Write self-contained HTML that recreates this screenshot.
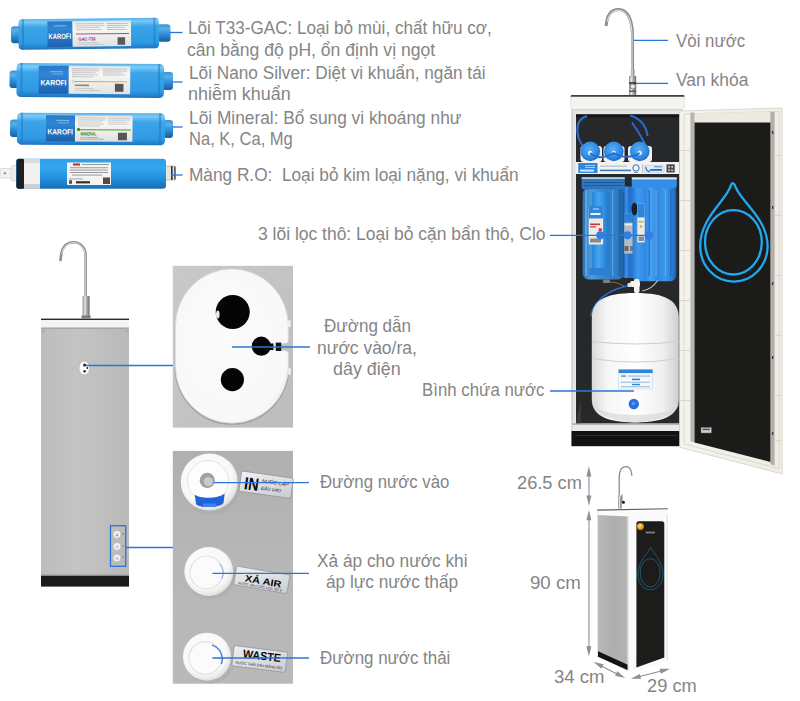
<!DOCTYPE html>
<html><head><meta charset="utf-8">
<style>
html,body{margin:0;padding:0;background:#fff;}
body{width:800px;height:701px;position:relative;overflow:hidden;font-family:"Liberation Sans",sans-serif;}
.t{position:absolute;white-space:nowrap;color:#858585;font-size:17.5px;line-height:20px;transform-origin:0 0;}
svg{position:absolute;left:0;top:0;}
</style></head><body>
<svg width="800" height="701" viewBox="0 0 800 701">
<defs>
<linearGradient id="cart" x1="0" y1="0" x2="0" y2="1">
 <stop offset="0" stop-color="#56b0ec"/><stop offset="0.1" stop-color="#7ccaf6"/><stop offset="0.27" stop-color="#3ba5ea"/><stop offset="0.8" stop-color="#2f99e3"/><stop offset="0.93" stop-color="#2382d2"/><stop offset="1" stop-color="#1c70c0"/>
</linearGradient>
<linearGradient id="cart2" x1="0" y1="0" x2="0" y2="1">
 <stop offset="0" stop-color="#3a92d2"/><stop offset="0.25" stop-color="#58b2ea"/><stop offset="0.6" stop-color="#2b8ad2"/><stop offset="1" stop-color="#185f9f"/>
</linearGradient>
<linearGradient id="ro" x1="0" y1="0" x2="0" y2="1">
 <stop offset="0" stop-color="#2f9ee6"/><stop offset="0.3" stop-color="#33a6ee"/><stop offset="0.7" stop-color="#1f8cd8"/><stop offset="1" stop-color="#1670b8"/>
</linearGradient>
<linearGradient id="lbl" x1="0" y1="0" x2="0" y2="1">
 <stop offset="0" stop-color="#e4e6e6"/><stop offset="0.3" stop-color="#f6f6f4"/><stop offset="1" stop-color="#e2e2de"/>
</linearGradient>
<linearGradient id="lblb" x1="0" y1="0" x2="0" y2="1">
 <stop offset="0" stop-color="#2a78c8"/><stop offset="0.3" stop-color="#2f86d6"/><stop offset="1" stop-color="#1c62ae"/>
</linearGradient>
<linearGradient id="steel" x1="0" y1="0" x2="1" y2="0">
 <stop offset="0" stop-color="#8c8c8c"/><stop offset="0.35" stop-color="#e8e8e8"/><stop offset="0.6" stop-color="#a8a8a8"/><stop offset="1" stop-color="#6e6e6e"/>
</linearGradient>
<linearGradient id="bodyg" x1="0" y1="0" x2="1" y2="0">
 <stop offset="0" stop-color="#bcbcbc"/><stop offset=".4" stop-color="#c4c4c4"/><stop offset="1" stop-color="#b9b9b9"/>
</linearGradient>
</defs>
<g id="filters">
<!-- cartridge 1 -->
<g transform="rotate(-0.6 90 34)">
 <rect x="11" y="25.5" width="10" height="17" rx="3" fill="url(#cart2)"/>
 <rect x="157" y="25" width="13.5" height="17.5" rx="3" fill="url(#cart2)"/>
 <rect x="18.5" y="18.5" width="140.5" height="30.5" rx="4" fill="url(#cart)"/>
 <rect x="22" y="18.5" width="2" height="30.5" fill="#1f79c2" opacity=".55"/>
 <rect x="153.5" y="18.5" width="2" height="30.5" fill="#1f79c2" opacity=".55"/>
 <rect x="47.5" y="21" width="25" height="25.5" fill="url(#lblb)"/>
 <rect x="72.5" y="21" width="58.5" height="25.5" fill="url(#lbl)"/>
 <text x="48.5" y="38.6" font-family="Liberation Sans, sans-serif" font-weight="bold" font-size="7.6" fill="#fff" textLength="22.5" lengthAdjust="spacingAndGlyphs">KAROFI</text>
 <rect x="54" y="25" width="12" height="1" fill="#9cc8ee" opacity=".8"/>
 <g fill="#b9bcbc"><rect x="76" y="23.3" width="28" height=".8"/><rect x="76" y="25.3" width="28" height=".8"/><rect x="76" y="27.3" width="24" height=".8"/><rect x="76" y="29.3" width="26" height=".8"/><rect x="107" y="23.3" width="21" height=".8"/><rect x="107" y="25.3" width="21" height=".8"/><rect x="107" y="27.3" width="18" height=".8"/><rect x="107" y="29.3" width="20" height=".8"/></g>
 <rect x="76" y="33.4" width="53" height="1" fill="#b04aa0"/>
 <text x="78.5" y="40.6" font-family="Liberation Sans, sans-serif" font-weight="bold" font-size="4.6" fill="#8a2a8e" textLength="17" lengthAdjust="spacingAndGlyphs">GAC-T33</text>
 <rect x="78" y="42.3" width="20" height=".7" fill="#bbb"/><rect x="78" y="44" width="26" height=".7" fill="#bbb"/>
 <rect x="117.5" y="37.5" width="7.5" height="7.5" fill="#5a5a5a"/>
</g>
<!-- cartridge 2 -->
<g transform="rotate(0.4 90 81)">
 <rect x="9.5" y="71" width="10" height="17.5" rx="3" fill="url(#cart2)"/>
 <rect x="162" y="71.5" width="11" height="18" rx="3" fill="url(#cart2)"/>
 <rect x="16.5" y="63.5" width="147.5" height="34" rx="4.5" fill="url(#cart)"/>
 <rect x="20.5" y="63.5" width="2" height="34" fill="#1f79c2" opacity=".55"/>
 <rect x="158" y="63.5" width="2" height="34" fill="#1f79c2" opacity=".55"/>
 <rect x="38.7" y="66" width="30" height="28" fill="url(#lblb)"/>
 <rect x="68.7" y="66" width="61.5" height="28" fill="url(#lbl)"/>
 <text x="40.5" y="85.6" font-family="Liberation Sans, sans-serif" font-weight="bold" font-size="7.8" fill="#fff" textLength="26" lengthAdjust="spacingAndGlyphs">KAROFI</text>
 <rect x="50" y="71.5" width="13" height="1" fill="#9cc8ee" opacity=".8"/><rect x="52" y="73.8" width="11" height="1" fill="#9cc8ee" opacity=".6"/>
 <g fill="#bdbfbf"><rect x="72" y="68.5" width="27" height=".8"/><rect x="72" y="70.5" width="27" height=".8"/><rect x="72" y="72.5" width="24" height=".8"/><rect x="72" y="74.5" width="26" height=".8"/><rect x="72" y="76.5" width="22" height=".8"/><rect x="103" y="68.5" width="24" height=".8"/><rect x="103" y="70.5" width="24" height=".8"/><rect x="103" y="72.5" width="20" height=".8"/><rect x="103" y="74.5" width="22" height=".8"/></g>
 <rect x="72" y="81.2" width="55" height=".9" fill="#c9a34a"/>
 <circle cx="73.5" cy="81.5" r="1.4" fill="#fff" stroke="#999" stroke-width=".5"/>
 <rect x="75" y="84.6" width="14" height="1.6" fill="#8a8a7a"/>
 <rect x="75" y="88" width="18" height=".7" fill="#bbb"/><rect x="75" y="90" width="24" height=".7" fill="#bbb"/>
 <rect x="115" y="83.7" width="8.5" height="7.8" fill="#555"/>
</g>
<!-- cartridge 3 -->
<g transform="rotate(0.3 90 129)">
 <rect x="10" y="120" width="10" height="17.5" rx="3" fill="url(#cart2)"/>
 <rect x="163" y="119.5" width="10" height="18" rx="3" fill="url(#cart2)"/>
 <rect x="17" y="113" width="148" height="32" rx="4.5" fill="url(#cart)"/>
 <rect x="21" y="113" width="2" height="32" fill="#1f79c2" opacity=".55"/>
 <rect x="159" y="113" width="2" height="32" fill="#1f79c2" opacity=".55"/>
 <rect x="46" y="115.5" width="29" height="26" fill="url(#lblb)"/>
 <rect x="75" y="115.5" width="57.5" height="26" fill="url(#lbl)"/>
 <text x="47.5" y="134.6" font-family="Liberation Sans, sans-serif" font-weight="bold" font-size="7.6" fill="#fff" textLength="25.5" lengthAdjust="spacingAndGlyphs">KAROFI</text>
 <rect x="56" y="120" width="13" height="1" fill="#9cc8ee" opacity=".8"/><rect x="58" y="122.3" width="11" height="1" fill="#9cc8ee" opacity=".6"/>
 <g fill="#bdbfbf"><rect x="78" y="117.6" width="27" height=".8"/><rect x="78" y="119.6" width="27" height=".8"/><rect x="78" y="121.6" width="24" height=".8"/><rect x="78" y="123.6" width="26" height=".8"/><rect x="78" y="125.6" width="22" height=".8"/><rect x="108" y="117.6" width="22" height=".8"/><rect x="108" y="119.6" width="22" height=".8"/><rect x="108" y="121.6" width="19" height=".8"/><rect x="108" y="123.6" width="21" height=".8"/></g>
 <rect x="78" y="129.2" width="53" height="1" fill="#4a9a3a"/>
 <circle cx="78.5" cy="129.5" r="1.6" fill="#3a8a2a"/>
 <text x="80.5" y="135.6" font-family="Liberation Sans, sans-serif" font-weight="bold" font-size="4.6" fill="#2f7a2a" textLength="16" lengthAdjust="spacingAndGlyphs">MINERAL</text>
 <rect x="80" y="137.2" width="18" height=".7" fill="#999"/><rect x="80" y="138.8" width="24" height=".7" fill="#999"/>
 <rect x="118" y="132.5" width="9" height="7.5" fill="#555"/>
</g>
<!-- RO membrane -->
<g>
 <rect x="0" y="168.5" width="14" height="9.5" rx="1.5" fill="#f3f3f3" stroke="#c8c8c8" stroke-width=".6"/>
 <circle cx="5" cy="173.2" r="1.3" fill="#9a9a9a"/>
 <rect x="11" y="165.5" width="8" height="15.5" rx="2" fill="#ececec" stroke="#c4c4c4" stroke-width=".5"/>
 <rect x="165" y="166" width="10.5" height="14" rx="1.5" fill="#e4e4e4" stroke="#9a9a9a" stroke-width=".6"/>
 <rect x="171" y="166" width="1.6" height="14" fill="#333"/><rect x="174.2" y="166.5" width="1.3" height="13" fill="#444"/>
 <rect x="16" y="158.7" width="150" height="30" rx="3" fill="url(#ro)"/>
 <rect x="16.5" y="158.7" width="8" height="30" rx="2.5" fill="#1d1f22"/>
 <rect x="24" y="159" width="16" height="29.5" fill="#f1f1f1"/>
 <rect x="24" y="159" width="16" height="4" fill="#dcdcdc"/><rect x="24" y="184" width="16" height="4.5" fill="#cfcfcf"/>
 <rect x="67" y="162.5" width="44" height="22.5" fill="#f4f4f2"/>
 <rect x="73" y="163.4" width="7" height="2.2" fill="#d0302a"/>
 <g fill="#8f8f8f"><rect x="82" y="164" width="27" height=".9"/><rect x="70" y="167.3" width="38" height=".9"/><rect x="70" y="169.6" width="38" height=".9"/><rect x="70" y="172" width="38" height=".9"/><rect x="72" y="174.6" width="30" height=".9"/><rect x="69" y="178.5" width="14" height=".8"/></g>
 <rect x="69" y="180.2" width="3" height="3.6" fill="#555"/>
 <rect x="76" y="181.2" width="14" height="2.2" fill="#333"/>
 <rect x="103" y="177.5" width="7" height="6.5" fill="#5a4a3a"/>
</g>
</g>
<!-- leader lines top-left -->
<g stroke="#2a74da" stroke-width="1.3" fill="none">
 <path d="M170 32.5H182.5"/><path d="M172.5 82H182.5"/><path d="M172.5 127H182.5"/><path d="M171 175H182.5"/>
</g>

<!-- back view unit -->
<g id="backunit">
 <path d="M85.6 297V254.5A12.3 12.3 0 0 0 73.3 242.2C66 242.2 62.2 247.5 61.3 254L60.4 261" fill="none" stroke="#8f8f8f" stroke-width="2.6" stroke-linecap="butt"/>
 <path d="M85.2 297V254.5A11.9 11.9 0 0 0 73.3 242.6C66.4 242.6 62.8 247.8 61.8 254" fill="none" stroke="#e2e2e2" stroke-width="0.9"/>
 <rect x="82.6" y="296" width="7" height="22" fill="url(#steel)"/>
 <rect x="81.6" y="315.5" width="9" height="2.8" fill="#7d7d7d"/>
 <rect x="41" y="318.6" width="88" height="1.5" fill="#2a2a2a"/>
 <rect x="41" y="320.1" width="88" height="8" fill="#f5f5f5"/>
 <rect x="41" y="327.6" width="88" height="1.2" fill="#8a8a8a"/>
 <rect x="41" y="328.8" width="88" height="247" fill="url(#bodyg)"/>
 <rect x="41" y="575.6" width="88" height="11" fill="#1b1b1b"/>
 <rect x="41" y="574.6" width="88" height="1.2" fill="#8e8e8e"/>
 <circle cx="43.5" cy="331.3" r=".8" fill="#8a8a8a"/><circle cx="126.5" cy="331.3" r=".8" fill="#8a8a8a"/>
 <ellipse cx="84.3" cy="368" rx="5.3" ry="7" fill="#fafafa" stroke="#a0a0a0" stroke-width=".5"/>
 <circle cx="84.6" cy="365" r="1.5" fill="#222"/><circle cx="84.6" cy="371.3" r="1.2" fill="#222"/><circle cx="87.3" cy="368" r=".9" fill="#222"/>
 <g fill="#f4f4f4" stroke="#9c9c9c" stroke-width=".5"><circle cx="117" cy="534.4" r="4"/><circle cx="117" cy="546.4" r="4"/><circle cx="117" cy="558" r="4"/></g>
 <g fill="#d0d0d0"><circle cx="117" cy="534.8" r="1.8"/><circle cx="117" cy="546.8" r="1.8"/><circle cx="117" cy="558.4" r="1.8"/></g>
 <circle cx="117.2" cy="535.6" r=".7" fill="#555"/>
 <g fill="#8a8a8a"><rect x="122.3" y="533" width="1.6" height="1.6"/><rect x="122.3" y="545.4" width="1.6" height="1.2"/><rect x="122.3" y="556.4" width="1.6" height="1.6"/></g>
 <rect x="110.5" y="525.7" width="15.2" height="40.6" fill="none" stroke="#2a74da" stroke-width="1.3"/>
</g>
<g stroke="#2a74da" stroke-width="1.3" fill="none">
 <path d="M86 365.5H173"/><path d="M125.7 547.5H173"/>
</g>
<!-- plug panel -->
<g id="plugpanel">
 <defs>
  <linearGradient id="pnl" x1="0" y1="0" x2="1" y2="1"><stop offset="0" stop-color="#c9c9c9"/><stop offset="1" stop-color="#bdbdbd"/></linearGradient>
  <radialGradient id="plugw" cx=".45" cy=".45" r=".62"><stop offset="0" stop-color="#fbfbfb"/><stop offset=".9" stop-color="#f8f8f8"/><stop offset="1" stop-color="#eeeeee"/></radialGradient>
 </defs>
 <rect x="172.8" y="265.8" width="120.2" height="161.8" fill="url(#pnl)"/>
 <path d="M288.4 366.5A56.4 56.6 0 0 1 175.5 366.5" fill="none" stroke="#808080" stroke-width="1.8" opacity=".5" transform="translate(0 .8)"/>
 
 <path d="M175.5 326A56.4 57 0 0 1 288.3 326V340.5C288.3 342.5 287 343.5 284 343.5H272V350.5H284C287.5 350.5 288.4 352 288.4 355V366.5A56.4 56.6 0 0 1 175.5 366.5Z" fill="url(#plugw)" stroke="#d8d8d8" stroke-width=".8"/>
 <rect x="288.2" y="320" width="2.5" height="7" rx="1" fill="#f2f2f2"/><rect x="288.2" y="368" width="2.5" height="7" rx="1" fill="#f2f2f2"/>
 <circle cx="232.7" cy="312" r="17" fill="#050505"/>
 <ellipse cx="217.8" cy="314.5" rx="1.8" ry="4" fill="#e8e8e8"/>
 <circle cx="261.3" cy="346.2" r="9.6" fill="#050505"/>
 <rect x="268" y="343.5" width="6" height="6.5" fill="#050505"/>
 <rect x="275.6" y="342.6" width="5.6" height="8.4" fill="#111"/>
 <rect x="273.4" y="342.6" width="2.2" height="8.4" fill="#eaeaea"/>
 <circle cx="232.4" cy="379.6" r="11.6" fill="#050505"/>
</g>
<path d="M232 347H310" stroke="#2a74da" stroke-width="1.3" fill="none"/>

<!-- ports panel -->
<g id="ports">
 <defs>
  <radialGradient id="portw" cx=".45" cy=".42" r=".6"><stop offset="0" stop-color="#ffffff"/><stop offset=".75" stop-color="#f8f8f8"/><stop offset="1" stop-color="#dedede"/></radialGradient>
  <linearGradient id="silver" x1="0" y1="0" x2="1" y2="1"><stop offset="0" stop-color="#f0f1f3"/><stop offset=".5" stop-color="#dcdee2"/><stop offset="1" stop-color="#c9ccd1"/></linearGradient>
 </defs>
 <linearGradient id="pnl2" x1="0" y1="0" x2="0" y2="1"><stop offset="0" stop-color="#b0b0b0"/><stop offset=".5" stop-color="#b7b7b7"/><stop offset="1" stop-color="#b9b9b9"/></linearGradient><rect x="172.8" y="450.9" width="120.2" height="232.8" fill="url(#pnl2)"/>
 <!-- port 1 -->
 <ellipse cx="211" cy="488" rx="29" ry="27" fill="#a9a9a9" opacity=".5"/>
 <circle cx="209.3" cy="482" r="28.5" fill="url(#portw)"/>
 <circle cx="208" cy="481" r="20.5" fill="#fdfdfd" stroke="#e4e4e4" stroke-width="1"/>
 <path d="M194.7 494.5C200 499 218 499 224.7 493.5L223.5 503C220 508 199 508.5 196 504Z" fill="#1f62da"/>
 <path d="M203 503.5H216V507H203Z" fill="#3f83ee"/>
 <circle cx="207.3" cy="480.3" r="7.6" fill="#9aa2a2"/>
 <circle cx="208.3" cy="481.6" r="4.6" fill="#c4cccc"/>
 <g transform="rotate(8 266.1 484.7)">
  <rect x="240" y="474.5" width="52.3" height="20.4" rx="1.5" fill="url(#silver)" stroke="#8e9096" stroke-width=".7"/>
  <text x="244.3" y="492" font-family="Liberation Sans, sans-serif" font-weight="bold" font-size="17.6" fill="#0a0a0a" textLength="14.6" lengthAdjust="spacingAndGlyphs">IN</text>
  <text x="261.5" y="483.2" font-family="Liberation Sans, sans-serif" font-style="italic" font-size="4.8" fill="#222" textLength="27" lengthAdjust="spacingAndGlyphs">NƯỚC CẤP</text>
  <text x="261.5" y="490.4" font-family="Liberation Sans, sans-serif" font-style="italic" font-size="4.8" fill="#222" textLength="20.5" lengthAdjust="spacingAndGlyphs">ĐẦU VÀO</text>
 </g>
 <!-- port 2 -->
 <ellipse cx="210.5" cy="575.5" rx="25" ry="23.5" fill="#a9a9a9" opacity=".5"/>
 <circle cx="208.8" cy="571.5" r="24.4" fill="url(#portw)"/>
 <circle cx="206.5" cy="572.5" r="16.5" fill="#fbfbfb" stroke="#e2e2e2" stroke-width="1.2"/>
 <path d="M219.5 563.5A14.5 14.5 0 0 1 221.8 579" fill="none" stroke="#7fabe8" stroke-width="1"/>
 <g transform="rotate(9.6 261.8 579.9)">
  <rect x="234.8" y="570.45" width="54" height="18.9" rx="1.5" fill="url(#silver)" stroke="#8e9096" stroke-width=".7"/>
  <text x="245" y="584.2" font-family="Liberation Sans, sans-serif" font-weight="bold" font-size="9.4" fill="#0a0a0a" textLength="36.8" lengthAdjust="spacingAndGlyphs">XẢ AIR</text>
  <text x="239" y="588.1" font-family="Liberation Sans, sans-serif" font-size="3.4" fill="#222" textLength="44" lengthAdjust="spacingAndGlyphs">NƯỚC SAU CỐC LỌC SỐ 3</text>
 </g>
 <!-- port 3 -->
 <ellipse cx="210" cy="660.3" rx="25" ry="23.5" fill="#a9a9a9" opacity=".5"/>
 <circle cx="207" cy="656.7" r="24" fill="url(#portw)"/>
 <circle cx="205.3" cy="658" r="16.3" fill="#fbfbfb" stroke="#e2e2e2" stroke-width="1.2"/>
 <path d="M212 645.2A14.5 14.5 0 0 1 221.4 664" fill="none" stroke="#3a7be0" stroke-width="1.3"/>
 <g transform="rotate(7.2 259.7 659)">
  <rect x="232.85" y="648.8" width="53.7" height="20.4" rx="1.5" fill="url(#silver)" stroke="#8e9096" stroke-width=".7"/>
  <text x="242.5" y="659.6" font-family="Liberation Sans, sans-serif" font-weight="bold" font-size="11.5" fill="#0a0a0a" textLength="38.2" lengthAdjust="spacingAndGlyphs">WASTE</text>
  <text x="236" y="666.6" font-family="Liberation Sans, sans-serif" font-size="3.8" fill="#222" textLength="47" lengthAdjust="spacingAndGlyphs">NƯỚC THẢI SAU MÀNG RO</text>
 </g>
</g>
<g stroke="#2a74da" stroke-width="1.3" fill="none">
 <path d="M213.4 482.7H309"/><path d="M212.4 573.4H309"/><path d="M212.4 658H309"/>
</g>

<!-- big cabinet -->
<g id="cabinet">
 <defs>
  <linearGradient id="tank" x1="0" y1="0" x2="1" y2="0"><stop offset="0" stop-color="#d9d9d9"/><stop offset=".18" stop-color="#f6f6f6"/><stop offset=".5" stop-color="#ffffff"/><stop offset=".82" stop-color="#efefef"/><stop offset="1" stop-color="#cfcfcf"/></linearGradient>
  <linearGradient id="f1" x1="0" y1="0" x2="1" y2="0"><stop offset="0" stop-color="#2a6fb4"/><stop offset=".2" stop-color="#4b9ddc"/><stop offset=".5" stop-color="#3586cc"/><stop offset=".85" stop-color="#2f7cc4"/><stop offset="1" stop-color="#1d5a9c"/></linearGradient>
  <linearGradient id="f1in" x1="0" y1="0" x2="1" y2="0"><stop offset="0" stop-color="#2583d6"/><stop offset=".4" stop-color="#45a6f0"/><stop offset="1" stop-color="#1f78cc"/></linearGradient>
  <linearGradient id="f3" x1="0" y1="0" x2="1" y2="0"><stop offset="0" stop-color="#2a7ad6"/><stop offset=".12" stop-color="#3f9af0"/><stop offset=".3" stop-color="#2f88e4"/><stop offset=".42" stop-color="#4aa2f0"/><stop offset=".55" stop-color="#2f88e0"/><stop offset=".75" stop-color="#3f98ea"/><stop offset=".9" stop-color="#2b7fd6"/><stop offset="1" stop-color="#1b5fb0"/></linearGradient>
  <radialGradient id="dome" cx=".45" cy=".4" r=".6"><stop offset="0" stop-color="#58b0f4"/><stop offset=".7" stop-color="#2f8be2"/><stop offset="1" stop-color="#1f6cc4"/></radialGradient>
  <linearGradient id="doorf" x1="0" y1="0" x2="1" y2="0"><stop offset="0" stop-color="#f5f3ee"/><stop offset="1" stop-color="#eeece4"/></linearGradient>
 </defs>
 <!-- faucet -->
 <path d="M632.5 76V36C632.5 20 627.6 9.6 618.6 9.6C611 9.6 607.5 15.5 606.7 21.5L606.1 26" fill="none" stroke="#8e8e8e" stroke-width="3"/>
 <path d="M632 76V36C632 20.5 627.2 10.2 618.6 10.2C611.5 10.2 608.2 15.8 607.4 21.5" fill="none" stroke="#e9e9e9" stroke-width="1"/>
 <rect x="629" y="76" width="7.2" height="20" fill="url(#steel)"/><rect x="630.8" y="69" width="3.6" height="8" fill="url(#steel)"/>
 <rect x="629" y="82.2" width="7.2" height="1.6" fill="#333"/><circle cx="632.8" cy="86.5" r="2.6" fill="#e6e6e6" stroke="#555" stroke-width=".7"/><rect x="629" y="90.6" width="7.2" height="1.2" fill="#444"/>
 
 <!-- body -->
 <rect x="571.5" y="100" width="111" height="346" fill="#e6e6e3"/>
 <rect x="570.7" y="95.6" width="113.7" height="14" rx="2.5" fill="#f4f3ef" stroke="#d8d6d0" stroke-width=".6"/>
 <path d="M571.5 95H683.6C684.2 95 684.5 95.8 684.5 96.7H570.6C570.6 95.8 571 95 571.5 95Z" fill="#36443e"/>
 <rect x="571.5" y="109.3" width="111" height="1" fill="#cfcdc6"/>
 <rect x="576" y="114.4" width="103.5" height="309" fill="#27282a"/>
 <rect x="571.5" y="110" width="1.2" height="336" fill="#c9c7c0"/>
 <rect x="576" y="114.4" width="103.5" height="3" fill="#161616"/>
 <!-- tubes top -->
 <g fill="none" stroke="#2a6cd4" stroke-width="2">
  <path d="M587 116C580 118 576.8 124 577.5 132C578 140 582 147 590 152.5"/>
  <path d="M630 115.5C640 118 646.5 126 647.5 136"/>
  <path d="M632 122.5C636 128 641 136 645 144"/>
 </g>
 <!-- membrane caps -->
 <g fill="#f2f2f2">
  <rect x="580.5" y="146" width="21.5" height="16" rx="3"/><rect x="603.5" y="146" width="21" height="16" rx="3"/><rect x="628" y="146" width="24" height="16" rx="3"/>
 </g>
 <g fill="url(#dome)"><circle cx="590.3" cy="151.4" r="9.8"/><circle cx="613.8" cy="151.4" r="9.8"/><circle cx="639.7" cy="151.4" r="9.8"/></g>
 <g fill="#e8f2fc"><circle cx="590.2" cy="153" r="2.2"/><circle cx="613.8" cy="153" r="2.2"/><circle cx="639.7" cy="153" r="2.2"/></g>
 <path d="M590.2 153C596 159 606 158 613.8 153C622 158 632 158 639.7 153" fill="none" stroke="#2a6cd4" stroke-width="2"/>
 <!-- shelf label -->
 <rect x="576" y="162" width="103" height="12" fill="#f1f2f3"/>
 <rect x="578.3" y="163" width="19.2" height="10" fill="#2f86d8"/>
 <rect x="580" y="169.5" width="14" height="2.2" fill="#e8f2fc" opacity=".85"/><rect x="585" y="165.2" width="10" height=".8" fill="#bfe0fa"/><rect x="585" y="167" width="10" height=".8" fill="#bfe0fa"/>
 <rect x="600" y="165.6" width="27" height="1" fill="#aab4c0"/><rect x="600" y="169.6" width="31" height="1.6" fill="#3f78b8"/>
 <circle cx="636" cy="168" r="3.2" fill="none" stroke="#3a6fae" stroke-width="1"/><rect x="634" y="172" width="4" height="1" fill="#8a98aa"/>
 <rect x="642.3" y="164" width=".7" height="9.4" fill="#b0b4b8"/>
 <rect x="644" y="165.4" width="20" height="7" rx="1.2" fill="#e2ecf6" stroke="#a8c0dc" stroke-width=".5"/>
 <rect x="650" y="169" width="12" height="1.8" fill="#2a6eb8"/><rect x="654" y="166.3" width="8" height="1" fill="#4a86c8"/>
 <path d="M645.8 166.8c0 3 1.5 4.5 4 5" fill="none" stroke="#2a6eb8" stroke-width="1.2"/>
 <rect x="666.5" y="164.3" width="8.2" height="8.2" fill="#4a4a4a"/>
 <rect x="668.3" y="166.1" width="1.6" height="1.6" fill="#ddd"/><rect x="671.4" y="166.1" width="1.6" height="1.6" fill="#ddd"/><rect x="668.3" y="169.2" width="1.6" height="1.6" fill="#ddd"/><rect x="671" y="169.6" width="2.2" height="1.4" fill="#ccc"/>
 <!-- filter 2 (slim, behind) -->
 <rect x="622.5" y="186.5" width="14" height="91.5" rx="3" fill="#2473cc"/>
 <rect x="625" y="186.5" width="3" height="91.5" fill="#3f93e6" opacity=".7"/>
 <rect x="623.5" y="213.6" width="11.6" height="40" fill="#b4bcc4"/>
 <rect x="623.5" y="213.6" width="11.6" height="9" fill="#2f7fd4"/>
 <rect x="624.3" y="223.5" width="10" height="2" fill="#e8e8e8"/><rect x="624.5" y="246" width="4" height="5" fill="#666"/><rect x="630" y="246" width="4" height="5" fill="#777"/>
 <!-- filter 1 (transparent) -->
 <rect x="582.6" y="188" width="41.6" height="91.4" rx="6" fill="url(#f1)"/>
 <rect x="581.6" y="177.2" width="43.2" height="12" rx="2" fill="#2f76be"/>
 <rect x="581.6" y="177.2" width="43.2" height="1.8" fill="#a9d4f2"/>
 <rect x="583.5" y="182" width="39.5" height="1" fill="#1f5a9a"/><rect x="583.5" y="185" width="39.5" height="1" fill="#1f5a9a"/>
 <rect x="591.8" y="192" width="17" height="77" rx="2" fill="url(#f1in)"/>
 <rect x="589" y="268" width="23" height="7" rx="2" fill="#2c7fd2"/>
 <rect x="588.7" y="206" width="14.4" height="38.5" rx="1" fill="#ecebe6"/>
 <rect x="588.7" y="206" width="14.4" height="12.5" fill="#2f86d8"/>
 <rect x="590.5" y="213" width="10" height="2" fill="#e8f2fc"/><rect x="593" y="208.5" width="6" height="1" fill="#bfe0fa"/>
 <rect x="590" y="223.5" width="10" height="1.6" fill="#c43a3a"/><rect x="590" y="226.3" width="6" height="1.2" fill="#c43a3a"/><rect x="598.8" y="228.3" width="3" height="3" fill="#d03030"/>
 <rect x="590" y="238.5" width="11" height="4" fill="#8a8a8a"/>
 <rect x="585" y="190" width="2.2" height="86" fill="#7cc0f0" opacity=".55"/><rect x="618.5" y="190" width="2" height="86" fill="#1b548e" opacity=".5"/><rect x="612" y="190" width="1.3" height="86" fill="#8acaf4" opacity=".45"/>
 <!-- filter 3 (solid) -->
 <rect x="632.5" y="184" width="43.8" height="97.2" rx="6" fill="url(#f3)"/>
 <rect x="631.8" y="177.4" width="45" height="10.5" rx="2.5" fill="#338ee6"/>
 <rect x="631.8" y="177.4" width="45" height="2" fill="#dceefc"/>
 <rect x="648.5" y="190" width="1.4" height="86" fill="#1f6cc8" opacity=".8"/><rect x="655.5" y="190" width="1.2" height="86" fill="#7cc0f8" opacity=".6"/><rect x="670" y="190" width="1.4" height="86" fill="#1f64b8" opacity=".7"/><rect x="665" y="190" width="1" height="86" fill="#7cc0f8" opacity=".5"/>
 <ellipse cx="634.5" cy="209" rx="3" ry="6.5" fill="#17202a"/>
 <rect x="637.3" y="203.4" width="7.4" height="39" fill="#ecebe4"/>
 <rect x="637.3" y="203.4" width="7.4" height="14" fill="#2f86d8"/>
 <rect x="638.5" y="221" width="5" height="1.4" fill="#c8b040"/><circle cx="641" cy="226.5" r="1.2" fill="#c8b040"/><rect x="638.5" y="236.5" width="5.4" height="4.5" fill="#8a8a8a"/>
 <!-- fittings -->
 <path d="M629 285.5C612 289 594 298 590.8 316" fill="none" stroke="#2a6bd0" stroke-width="1.6"/>
 <path d="M642 291C650 290 654 286 658 280" fill="none" stroke="#b8c0c8" stroke-width="1.2"/>
 <rect x="603" y="279.5" width="7" height="3.5" rx="1" fill="#7a8088"/><path d="M610 282C616 282 620 284 624 286" fill="none" stroke="#8a6a3a" stroke-width="1"/>
 <rect x="630" y="281" width="10" height="6" rx="2" fill="#f2f2f2"/><rect x="634" y="279" width="5.5" height="14" rx="2" fill="#f4f4f4"/><rect x="627.5" y="283" width="4" height="4" rx="1" fill="#e4e4e4"/>
 <!-- tank -->
 <path d="M591.8 318C591.8 301 604 293 635.3 293C666.5 293 678.8 301 678.8 318V399C678.8 414 667 422.4 635.3 422.4C603.5 422.4 591.8 414 591.8 399Z" fill="url(#tank)"/>
 <path d="M591.8 341.5Q635.5 346.5 678.8 341.5" fill="none" stroke="#cdcdcd" stroke-width="1"/>
 <path d="M591.8 358.5Q635.5 365.5 678.8 358.5" fill="none" stroke="#d0d0d0" stroke-width="1.2"/>
 <path d="M592 404C596 418 625 422.5 635.5 422.5C646 422.5 675 418 679 404C672 412 655 415 635.5 415C616 415 599 412 592 404Z" fill="#d8d8d8" opacity=".7"/>
 <rect x="618.6" y="369.5" width="34" height="19.5" fill="#f4f8fc" stroke="#bcd0e6" stroke-width=".5"/>
 <rect x="618.6" y="369.5" width="34" height="3.6" fill="#2f86d8"/>
 <g fill="#7ea6d2"><rect x="621" y="375.2" width="5" height="1.8"/><rect x="628" y="375.6" width="22" height=".9"/><rect x="632" y="378.6" width="8" height="1.6" fill="#2f86d8"/><rect x="621" y="381.8" width="29" height=".8"/><rect x="632" y="383.8" width="8" height="1.4" fill="#2f86d8"/><rect x="621" y="386.4" width="29" height=".8"/></g>
 <circle cx="633.8" cy="404" r="5.2" fill="#2a6fe0"/><circle cx="633.4" cy="403.5" r="1.8" fill="#5a98f4"/>
 <!-- bottom -->
 <path d="M576 423.5L581 400V423.5Z" fill="#3a3a3a"/>
 <rect x="576" y="390" width="10" height="1.2" fill="#555" opacity=".6"/>
 <rect x="572.5" y="423.4" width="108" height="1.4" fill="#9a9a9a"/>
 <rect x="572.5" y="424.8" width="108" height="6.4" fill="#e9e9e7"/>
 <rect x="571.5" y="431" width="110" height="15.2" fill="#121212"/>
 <rect x="575" y="435" width="102" height="1" fill="#2e2e2e"/>
 <!-- door -->
 <path d="M679.6 111L782.2 108V474L679.6 447.2Z" fill="url(#doorf)" stroke="#cfccc2" stroke-width=".7"/>
 <path d="M684 114L779 111.5V468.5L684 444Z" fill="none" stroke="#d6d3c8" stroke-width=".8"/>
 <path d="M690.6 113.5L774.2 111.6V122.6H690.6Z" fill="#ebe9e1"/>
 <path d="M690.4 112.5H694.5V442.3L690.4 441.3Z" fill="#b7b5af"/>
 <path d="M770.4 111.8H774.6V465.4L770.4 464.3Z" fill="#b0afab"/>
 <path d="M694.5 122.6H770.4V462L694.5 442.6Z" fill="#1b1b1a"/>
 <g fill="#d9d6cb"><rect x="680" y="150" width="10" height="1"/><rect x="680" y="200" width="10" height="1"/><rect x="680" y="250" width="10" height="1"/><rect x="680" y="300" width="10" height="1"/><rect x="680" y="350" width="10" height="1"/><rect x="680" y="400" width="10" height="1"/><rect x="775" y="155" width="7" height="1"/><rect x="775" y="215" width="7" height="1"/><rect x="775" y="275" width="7" height="1"/><rect x="775" y="335" width="7" height="1"/><rect x="775" y="395" width="7" height="1"/><rect x="775" y="440" width="7" height="1"/></g>
 <g fill="#3a3a3a"><rect x="772" y="131" width="1.3" height="3"/><rect x="772" y="206" width="1.3" height="3"/><rect x="772" y="282" width="1.3" height="3"/><rect x="772" y="356" width="1.3" height="3"/><rect x="772" y="432" width="1.3" height="3"/></g>
 <rect x="701" y="427.4" width="10.4" height="5.6" fill="#cfcfcf" stroke="#666" stroke-width=".5"/><rect x="702.5" y="428.6" width="7.4" height="1.6" fill="#555"/>
 <!-- drop -->
 <path d="M732.8 183.2C734.5 183.2 735 186 736.5 189C744 204 767.6 220 767.6 246C767.6 266 752.5 281.6 733.8 281.6C715 281.6 700.2 266 700.2 246C700.2 220 722 204 729.4 189C730.8 186 731.2 183.2 732.8 183.2Z" fill="none" stroke="#22a8ee" stroke-width="2.3"/>
 <ellipse cx="733.4" cy="242.3" rx="28.4" ry="32.2" fill="none" stroke="#22a8ee" stroke-width="2.3"/>
</g>
<g stroke="#2a74da" stroke-width="1.3" fill="none">
 <path d="M634 40.4H668"/><path d="M636.2 83.4H668"/><path d="M550 235.3H649"/><path d="M550 391H634"/>
</g>
<g fill="#2f7ee2"><circle cx="600.3" cy="235.3" r="4.1"/><circle cx="627.5" cy="235.3" r="4.1"/><circle cx="649" cy="235.3" r="4.1"/></g>

<!-- small purifier -->
<g id="small">
 <defs><linearGradient id="sideg" x1="0" y1="0" x2="1" y2="0"><stop offset="0" stop-color="#b9b9b9"/><stop offset=".5" stop-color="#aeaeae"/><stop offset="1" stop-color="#b4b4b4"/></linearGradient></defs>
 <path d="M619.2 508V478C619.2 470.5 621.5 466.6 625.8 466.6C630 466.6 631.6 470 631.9 475.6" fill="none" stroke="#8a8a8a" stroke-width="1.3"/>
 <rect x="618.2" y="496.5" width="3.6" height="12" fill="#9a9a9a"/><rect x="618.9" y="496.5" width="1.1" height="12" fill="#e4e4e4"/>
 <rect x="621.2" y="494.5" width="1.3" height="8" fill="#8a8a8a"/>
 <circle cx="623.4" cy="502.2" r="1.5" fill="#1a1a1a"/>
 <!-- top -->
 <path d="M597 509.8L667.8 508.4V514.2L628 516.6L597 515.2Z" fill="#fbfbfb"/>
 <path d="M597 509.6L667.8 508.2V509.3L597 510.8Z" fill="#56625c"/>
 <!-- side -->
 <path d="M597.6 515L627.8 516.6V670.2L597.6 656.4Z" fill="url(#sideg)"/>
 <path d="M597.6 651L627.8 664.8V670.2L597.6 656.4Z" fill="#141414"/>
 <path d="M597 510.5H598V656.4L597 656Z" fill="#e6e6e6"/>
 <!-- front -->
 <path d="M627.8 516.4L667.8 514V660.8L636.4 670.6L627.8 670.2Z" fill="#fafafa"/>
 <path d="M627.8 516.4H628.8V670.2H627.8Z" fill="#e2e2e2"/>
 <path d="M638.9 521.3H661.8Q664.3 521.3 664.3 523.8V657.4L636.4 667.6V523.8Q636.4 521.3 638.9 521.3Z" fill="#1c1c1b"/>
 <path d="M667.2 514V660.8" stroke="#d8d8d8" stroke-width=".8"/>
 <circle cx="640.4" cy="526.4" r="3.4" fill="#e89a1a"/><circle cx="640" cy="525.8" r="1.9" fill="#f6d25a"/>
 <rect x="645.8" y="531.6" width="9" height="1.8" fill="#9a9a9a" opacity=".8"/>
 <path d="M650.6 547.2C651.6 551 663 561 663 574C663 583.5 657.5 589.8 650.4 589.8C643.3 589.8 638 583.5 638 574C638 561 649.6 551 650.6 547.2Z" fill="none" stroke="#1f6486" stroke-width=".8"/>
 <ellipse cx="650.2" cy="572.8" rx="10" ry="14.2" fill="none" stroke="#1f6486" stroke-width=".8"/>
</g>
<!-- dimension arrows -->
<g fill="#8f8f8f" stroke="none">
 <rect x="588.4" y="472" width="1.1" height="28"/>
 <path d="M588.9 466.2L591.4 476.4H586.4Z"/><path d="M588.9 505.8L591.4 495.6H586.4Z"/>
 <rect x="588.4" y="516" width="1.1" height="134"/>
 <path d="M588.9 510L591.4 520.2H586.4Z"/><path d="M588.9 656.4L591.4 646.2H586.4Z"/>
 <g transform="translate(593.6 662) rotate(27)"><rect x="6" y="-.55" width="23.5" height="1.1"/><path d="M0 0L10 -2.5V2.5Z"/><path d="M35.4 0L25.4 -2.5V2.5Z"/></g>
 <g transform="translate(630.8 678.8) rotate(-14.3)"><rect x="6" y="-.55" width="28.5" height="1.1"/><path d="M0 0L10 -2.5V2.5Z"/><path d="M40.4 0L30.4 -2.5V2.5Z"/></g>
</g>
</svg>

<span class="t" style="left:188.02px;top:17.69px;transform:scaleX(0.9773)">Lõi T33-GAC: Loại bỏ mùi, chất hữu cơ,</span>
<span class="t" style="left:187.00px;top:40.19px;transform:scaleX(1.0041)">cân bằng độ pH, ổn định vị ngọt</span>
<span class="t" style="left:189.02px;top:62.69px;transform:scaleX(0.9833)">Lõi Nano Silver: Diệt vi khuẩn, ngăn tái</span>
<span class="t" style="left:188.47px;top:83.94px;transform:scaleX(1.0255)">nhiễm khuẩn</span>
<span class="t" style="left:189.01px;top:107.69px;transform:scaleX(0.9891)">Lõi Mineral: Bổ sung vi khoáng như</span>
<span class="t" style="left:189.06px;top:128.94px;transform:scaleX(0.9444)">Na, K, Ca, Mg</span>
<span class="t" style="left:188.52px;top:165.19px;transform:scaleX(0.9850)">Màng R.O:&nbsp; Loại bỏ kim loại nặng, vi khuẩn</span>
<span class="t" style="left:676.00px;top:31.44px;transform:scaleX(0.9648)">Vòi nước</span>
<span class="t" style="left:676.00px;top:70.19px;transform:scaleX(0.9966)">Van khóa</span>
<span class="t" style="left:257.75px;top:223.94px;transform:scaleX(0.9983)">3 lõi lọc thô: Loại bỏ cặn bẩn thô, Clo</span>
<span class="t" style="left:323.75px;top:315.94px;transform:scaleX(0.9744)">Đường dẫn</span>
<span class="t" style="left:317.00px;top:337.69px;transform:scaleX(0.9974)">nước vào/ra,</span>
<span class="t" style="left:333.48px;top:358.94px;transform:scaleX(1.0234)">dây điện</span>
<span class="t" style="left:422.04px;top:379.69px;transform:scaleX(0.9623)">Bình chứa nước</span>
<span class="t" style="left:319.50px;top:472.19px;transform:scaleX(0.9590)">Đường nước vào</span>
<span class="t" style="left:317.01px;top:551.44px;transform:scaleX(0.9868)">Xả áp cho nước khi</span>
<span class="t" style="left:326.02px;top:572.19px;transform:scaleX(0.9850)">áp lực nước thấp</span>
<span class="t" style="left:319.50px;top:647.69px;transform:scaleX(0.9664)">Đường nước thải</span>
<span class="t" style="left:516.96px;top:473.44px;transform:scaleX(1.0417)">26.5 cm</span>
<span class="t" style="left:529.93px;top:572.69px;transform:scaleX(1.0652)">90 cm</span>
<span class="t" style="left:553.94px;top:667.19px;transform:scaleX(1.0598)">34 cm</span>
<span class="t" style="left:646.96px;top:675.94px;transform:scaleX(1.0435)">29 cm</span>
</body></html>
